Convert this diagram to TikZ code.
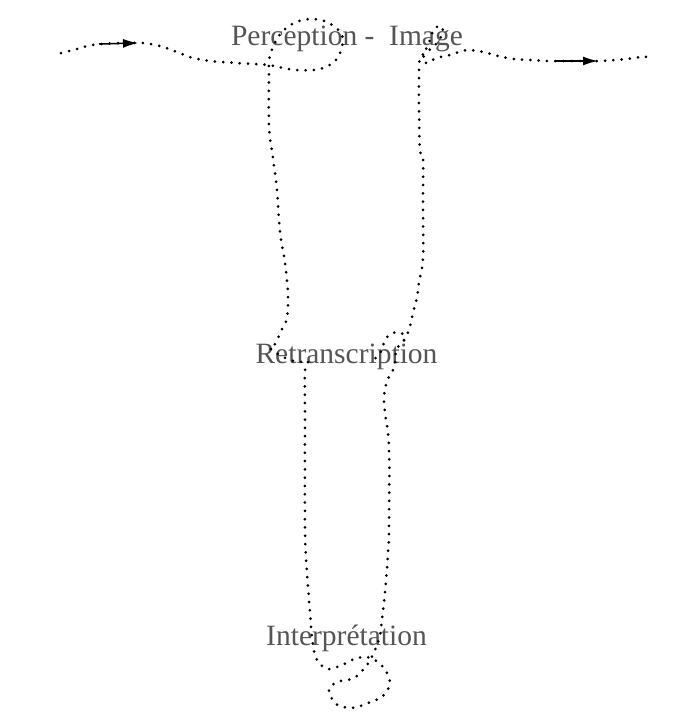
\documentclass[tikz,border=0pt]{standalone}
\usepackage{fontspec}
\setmainfont{Liberation Serif}
\usepackage{tikz}
\usetikzlibrary{arrows.meta}
\definecolor{labelgray}{RGB}{85,85,85}
\tikzset{strand/.style = {line width=3pt, line cap=round,
                          dash pattern=on 0pt off 8.3pt},
         flow/.style = {line width=1.5pt, -{Latex[length=15pt, width=9pt]}},
         stage/.style = {anchor=base, inner sep=0pt, text=labelgray,
                         font=\fontsize{29.5}{34}\selectfont}}

\begin{document}
\begin{tikzpicture}[x=1pt, y=-1pt]
    \useasboundingbox (0, 0) rectangle (688, 716);

    \node [stage] (perception) at (347, 45) {Perception - \ Image};
    \node [stage] (retranscription) at (346.5, 363) {Retranscription};
    \node [stage] (interpretation) at (346.5, 645) {Interprétation};

    \draw [strand] plot [smooth, tension=0.55] coordinates {
        (61, 53) (77, 49) (92, 45) (110, 43.5) (130, 43) (143, 43) (160, 46)
        (177, 52) (193, 58) (211, 61) (236, 63) (268, 65) (295, 70) (320, 69)
        (335, 61) (342, 47) (341, 33) (327, 22) (310, 19) (294, 23) (281, 33)
        (273, 47) (269, 60) (269, 72) (269, 127) (273, 158) (277, 190)
        (280, 232) (285, 263) (288, 295) (287, 318) (283, 327) (275, 344)
        (270, 348) (283, 357) (298, 362) (308, 361) (305, 371) (305, 415)
        (305, 530) (307, 573) (310, 612) (312, 637) (316, 658) (327, 669)
        (342, 665) (357, 658) (371, 658) (384, 668) (390, 683) (383, 696)
        (368, 703) (352, 708) (336, 704) (329, 690) (337, 682) (354, 678)
        (367, 665) (375, 650) (380, 635) (383, 610) (385, 593) (388, 553)
        (389, 530) (389, 447) (385, 413) (384, 397) (387, 381) (394, 368)
        (395, 358) (397, 348) (403, 342) (405, 336) (398, 332) (389, 335)
        (384, 342) (382, 350) (377, 357) (372, 360)};
    \draw [strand] plot [smooth, tension=0.55] coordinates {
        (404, 340) (409, 330) (413, 313) (417, 297) (419, 282) (423, 258)
        (423, 200) (423, 158) (420, 150) (419, 110) (419, 77) (420, 58)
        (427, 52) (437, 43) (443, 32) (441, 26) (434, 29) (430, 40) (425, 52)
        (423, 61) (428, 63) (436, 58) (450, 55) (467, 50) (483, 52) (498, 56)
        (514, 59) (531, 60) (547, 61) (570, 61) (598, 61) (615, 60) (635, 58)
        (642, 56) (649, 58)};

    \coordinate (in tail) at (99, 44);
    \coordinate (in head) at (138, 43);
    \coordinate (out tail) at (555, 61);
    \coordinate (out head) at (598, 61);
    \draw [flow] (in tail) -- (in head);
    \draw [flow] (out tail) -- (out head);
\end{tikzpicture}
\end{document}
